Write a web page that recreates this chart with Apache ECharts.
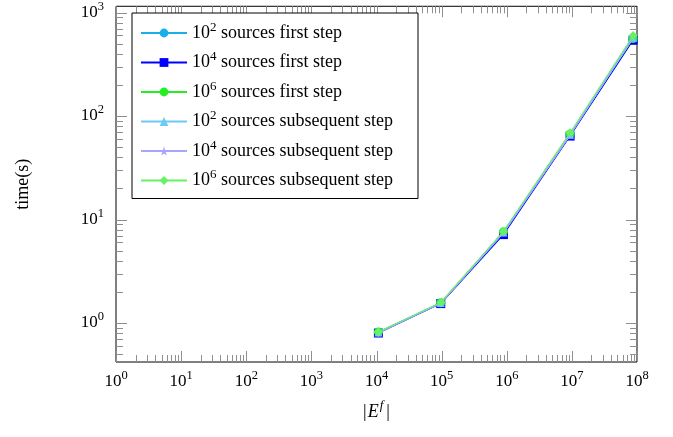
<!DOCTYPE html>
<html>
<head>
<meta charset="utf-8">
<script src="https://cdn.jsdelivr.net/npm/echarts@6/dist/echarts.min.js"></script>
<style>html,body{margin:0;padding:0;background:#fff}#c{width:673px;height:437px}</style>
</head>
<body>
<div id="c"></div>
<script>
// ---- data ----
const xValues = [1.07e4, 9.7e4, 8.9e5, 9.4e6, 8.7e7];
const first100 = [0.81, 1.55, 7.4, 65, 550];
const first1e4 = [0.80, 1.54, 7.15, 64, 540];
const first1e6 = [0.82, 1.57, 7.6, 67, 560];
const subs100  = [0.81, 1.56, 7.5, 66, 570];
const subs1e4  = [0.81, 1.56, 7.5, 66, 575];
const subs1e6  = [0.82, 1.58, 7.7, 69, 600];
const seriesNames = [
  '10^2 sources first step',
  '10^4 sources first step',
  '10^6 sources first step',
  '10^2 sources subsequent step',
  '10^4 sources subsequent step',
  '10^6 sources subsequent step'
];
const xTickExps = [0, 1, 2, 3, 4, 5, 6, 7, 8];
const yTickExps = [0, 1, 2, 3];
const xAxisTitle = '|E^f|';
const yAxisTitle = 'time(s)';

// ---- styling ----
const FONT = 'Liberation Serif';
const STAR = 'path://M0,-10 L2.35,-3.24 9.51,-3.09 3.8,1.24 5.88,8.09 0,4 -5.88,8.09 -3.8,1.24 -9.51,-3.09 -2.35,-3.24Z';
const styles = [
  {color: '#1aaeea', symbol: 'circle', size: 9, width: 1.1},
  {color: '#0000ff', symbol: 'rect', size: 9, width: 1.1},
  {color: '#22ee22', symbol: 'circle', size: 9, width: 1.1},
  {color: '#6ccbf2', symbol: 'triangle', size: 8, width: 1.1},
  {color: '#a6a6ff', symbol: STAR, size: 8, width: 1.6},
  {color: '#66f266', symbol: 'diamond', size: 9, width: 1.1}
];
const dataSets = [first100, first1e4, first1e6, subs100, subs1e4, subs1e6];

const X_MIN = 1, X_MAX = 1e8, Y_MIN = 0.42, Y_MAX = 1148;

function supText(s) {
  return s.replace(/10\^(\d+)/g, '10{sup|$1}');
}
function expLabel(v, exps) {
  const l = Math.log10(v);
  const e = Math.round(l);
  if (Math.abs(l - e) > 1e-6 || exps.indexOf(e) < 0) return '';
  return '10{sup|' + e + '}';
}
const richBase = {
  sup: {fontSize: 12.5, fontFamily: FONT, color: '#000', verticalAlign: 'top'}
};

// tick marks (major + minor) built from the axis decades
const tickData = [];
for (let k = 0; k <= 8; k++) {
  tickData.push([Math.pow(10, k), 1, 1]);
  if (k < 8) for (let m = 2; m <= 9; m++) tickData.push([m * Math.pow(10, k), 1, 0]);
}
for (let k = -1; k <= 3; k++) {
  const p = Math.pow(10, k);
  if (p >= Y_MIN && p <= Y_MAX) tickData.push([1, p, 3]);
  for (let m = 2; m <= 9; m++) {
    const v = m * p;
    if (v > Y_MIN && v < Y_MAX && k < 3) tickData.push([1, v, 2]);
  }
}

const series = seriesNames.map((name, i) => ({
  name: name,
  type: 'line',
  data: xValues.map((x, j) => [x, dataSets[i][j]]),
  symbol: styles[i].symbol,
  symbolSize: styles[i].size,
  showAllSymbol: true,
  lineStyle: {color: styles[i].color, width: styles[i].width},
  itemStyle: {color: styles[i].color},
  z: 3 + i,
  animation: false
}));

series.unshift({
  type: 'custom',
  name: 'ticks',
  silent: true,
  clip: false,
  z: 1,
  animation: false,
  encode: {x: 0, y: 1},
  data: tickData,
  renderItem: function (params, api) {
    const cs = params.coordSys;
    const t = api.value(2);
    const st = {stroke: '#8f8f8f', lineWidth: 1};
    if (t === 0 || t === 1) {
      const px = Math.round(api.coord([api.value(0), 1])[0]) + 0.5;
      const len = t === 1 ? 11 : 7;
      const b = cs.y + cs.height, tp = cs.y;
      return {type: 'group', children: [
        {type: 'line', shape: {x1: px, y1: b, x2: px, y2: b - len}, style: st},
        {type: 'line', shape: {x1: px, y1: tp, x2: px, y2: tp + len}, style: st}
      ]};
    } else {
      const py = Math.round(api.coord([1, api.value(1)])[1]) + 0.5;
      const len = t === 3 ? 11 : 7;
      const l = cs.x, r = cs.x + cs.width;
      return {type: 'group', children: [
        {type: 'line', shape: {x1: l, y1: py, x2: l + len, y2: py}, style: st},
        {type: 'line', shape: {x1: r, y1: py, x2: r - len, y2: py}, style: st}
      ]};
    }
  }
});

const chart = echarts.init(document.getElementById('c'), null, {renderer: 'canvas'});
chart.setOption({
  animation: false,
  backgroundColor: '#fff',
  grid: {left: 116, right: 36, top: 2, bottom: 75, show: true, borderColor: '#000', borderWidth: 1, backgroundColor: 'transparent'},
  xAxis: {
    type: 'log', logBase: 10, min: X_MIN, max: X_MAX,
    axisLine: {show: false}, axisTick: {show: false}, splitLine: {show: false},
    axisLabel: {
      margin: 7,
      formatter: v => expLabel(v, xTickExps),
      fontFamily: FONT, fontSize: 17, color: '#000', lineHeight: 25,
      rich: richBase
    },
    name: xAxisTitle.replace('|E^f|', '|{it|E}{itsup|f}|'),
    nameLocation: 'middle', nameGap: 36,
    nameTextStyle: {
      fontFamily: FONT, fontSize: 18, color: '#000', lineHeight: 26,
      rich: {
        it: {fontFamily: FONT, fontStyle: 'italic', fontSize: 18, color: '#000', padding: [0, 1, 0, 1]},
        itsup: {fontFamily: FONT, fontStyle: 'italic', fontSize: 13, color: '#000', verticalAlign: 'top', padding: [0, 3, 0, 0]}
      }
    }
  },
  yAxis: {
    type: 'log', logBase: 10, min: Y_MIN, max: Y_MAX,
    axisLine: {show: false}, axisTick: {show: false}, splitLine: {show: false},
    axisLabel: {
      margin: 12,
      formatter: v => expLabel(v, yTickExps),
      fontFamily: FONT, fontSize: 17, color: '#000', lineHeight: 25,
      rich: richBase
    },
    name: yAxisTitle,
    nameLocation: 'middle', nameGap: 84, nameRotate: 90,
    nameTextStyle: {fontFamily: FONT, fontSize: 18, color: '#000'}
  },
  legend: {
    data: seriesNames,
    orient: 'vertical',
    left: 132, top: 13,
    padding: [8, 14, 6, 8],
    itemGap: 5.5,
    itemWidth: 46, itemHeight: 11,
    backgroundColor: '#fff',
    borderColor: '#000', borderWidth: 1, borderRadius: 0,
    formatter: name => supText(name),
    textStyle: {
      fontFamily: FONT, fontSize: 18, color: '#000', lineHeight: 24, width: 212,
      rich: {sup: {fontSize: 13, fontFamily: FONT, color: '#000', verticalAlign: 'top'}}
    },
    selectedMode: false
  },
  series: series
});
</script>
</body>
</html>
